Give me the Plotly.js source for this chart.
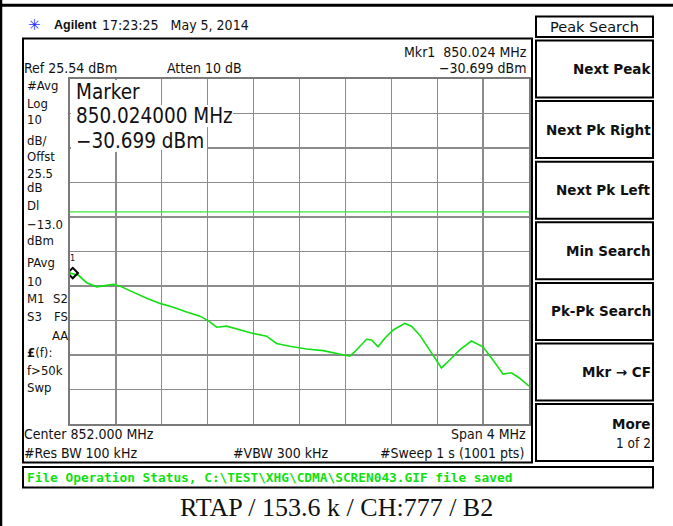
<!DOCTYPE html>
<html>
<head>
<meta charset="utf-8">
<script src="https://cdn.plot.ly/plotly-3.0.1.min.js"></script>
<style>
  html, body { margin: 0; padding: 0; background: #fff; }
  #plot { width: 673px; height: 526px; }
</style>
</head>
<body>
<div id="plot"></div>
<script>
// analyzer settings
const refLevel = 25.54;
const dbPerDiv = 10;
const centerMHz = 852.0;
const spanMHz = 4;
const displayLine = -13.0;
const markerFreq = [850.024];
const markerLevel = [-30.699];

// trace
const freqMHz = [
	850.000, 850.006, 850.072, 850.145, 850.233, 850.290, 850.377, 850.435,
	850.551, 850.668, 850.784, 850.900, 851.016, 851.132, 851.204, 851.278,
	851.365, 851.481, 851.596, 851.713, 851.800, 851.916, 852.061, 852.206,
	852.351, 852.439, 852.482, 852.584, 852.628, 852.685, 852.743, 852.816,
	852.918, 852.976, 853.048, 853.135, 853.237, 853.309, 853.396, 853.498,
	853.599, 853.686, 853.774, 853.847, 853.919, 854.000,
];
const levelDbm = [
	-30.6, -30.8, -31.3, -33.5, -34.7, -34.4, -34.0, -34.5,
	-36.3, -38.0, -39.5, -40.6, -42.0, -43.2, -44.5, -46.4,
	-46.1, -47.2, -48.2, -49.0, -51.1, -51.9, -52.7, -53.2,
	-54.3, -54.8, -53.5, -49.9, -50.1, -52.1, -49.6, -47.2,
	-45.3, -46.1, -48.7, -53.0, -58.2, -55.9, -53.0, -50.4,
	-52.1, -55.9, -60.0, -59.6, -61.2, -63.5,
];

const softkeys = ['Next Peak', 'Next Pk Right', 'Next Pk Left', 'Min Search', 'Pk-Pk Search', 'Mkr \u2192 CF'];
const sideLabels = ['#Avg', 'Log', '10', 'dB/', 'Offst', '25.5', 'dB', 'Dl', '\u221213.0', 'dBm', 'PAvg', '10'];

// plot area in pixels
const PL = 70, PT = 79, PW = 459, PH = 345;
const px = x => (x - PL) / PW;
const py = y => (PT + PH - y) / PH;

const scrFont = "'DejaVu Sans Condensed', 'DejaVu Sans', sans-serif";
const keyFont = "'DejaVu Sans', sans-serif";
const green = '#12e012';

function label(text, x, y, anchor = 'left', size = 13, color = '#111', family = scrFont) {
	return {
		text, xref: 'paper', yref: 'paper',
		x: px(x), y: py(y),
		xanchor: anchor, yanchor: 'middle',
		showarrow: false, borderpad: 0,
		font: {family, size, color},
	};
}

function box(x0, y0, x1, y1, color = '#000', width = 2, fill = 'rgba(0,0,0,0)') {
	return {
		type: 'rect', xref: 'paper', yref: 'paper', layer: 'above',
		x0: px(x0), x1: px(x1), y0: py(y0), y1: py(y1),
		line: {color, width}, fillcolor: fill,
	};
}

function line(x0, y0, x1, y1, color = '#000', width = 2) {
	return {
		type: 'line', xref: 'paper', yref: 'paper', layer: 'above',
		x0: px(x0), x1: px(x1), y0: py(y0), y1: py(y1),
		line: {color, width},
	};
}

function visualize() {
	const trace = {
		x: freqMHz, y: levelDbm,
		mode: 'lines', type: 'scatter',
		line: {color: green, width: 1.6},
		hoverinfo: 'none',
	};
	const marker = {
		x: markerFreq, y: markerLevel,
		mode: 'markers', type: 'scatter',
		marker: {symbol: 'diamond-open', size: 8, color: '#000', line: {width: 2, color: '#000'}},
		hoverinfo: 'none',
	};

	const shapes = [
		// outer frame
		line(0, 5.3, 673, 5.3, '#000', 3),
		line(1, 0, 1, 526, '#000', 2.5),
		// marker readout backgrounds
		box(71, 80, 146, 152, '#fff', 0, '#fff'),
		box(71, 105, 233, 127, '#fff', 0, '#fff'),
		box(71, 127, 207, 150, '#fff', 0, '#fff'),
		// display line
		{
			type: 'line', xref: 'paper', yref: 'y', layer: 'above',
			x0: 0, x1: 1, y0: displayLine, y1: displayLine,
			line: {color: '#3ce63c', width: 1.2},
		},
		// screen frame and status bar
		box(23, 38.5, 532, 462.5),
		box(23, 467, 653, 487.5),
		// softkey boxes
		box(536, 16.5, 653, 37),
	];
	const annotations = [
		label('\u2733', 34.5, 25, 'center', 15, '#2233ff', keyFont),
		label('<b>Agilent</b>', 53, 25, 'left', 12.5, '#111', 'Arial, Liberation Sans, sans-serif'),
		label('17:23:25   May 5, 2014', 101, 25, 'left', 14),
		label('Ref 25.54 dBm', 23, 68.5, 'left', 14),
		label('Atten 10 dB', 166, 68.5, 'left', 14),
		label('Mkr1  850.024 MHz', 528, 52, 'right', 14),
		label('\u221230.699 dBm', 528, 68.5, 'right', 14),
		label('Marker', 75, 92, 'left', 20.5),
		label('850.024000 MHz', 75, 116, 'left', 20.5),
		label('\u221230.699 dBm', 75, 140.5, 'left', 20.5),
		label('1', 72.5, 258, 'center', 9),
		label('M1', 26, 298.5), label('S2', 69, 298.5, 'right'),
		label('S3', 26, 316), label('FS', 69, 316, 'right'),
		label('AA', 69, 335, 'right'),
		label('<b>\u00a3</b>(f):', 26, 352),
		label('f>50k', 26, 370.5),
		label('Swp', 26, 387.5),
		label('Center 852.000 MHz', 23, 434, 'left', 14),
		label('Span 4 MHz', 527, 434, 'right', 14),
		label('#Res BW 100 kHz', 23, 453, 'left', 14),
		label('#VBW 300 kHz', 232, 453, 'left', 14),
		label('#Sweep 1 s (1001 pts)', 525, 453, 'right', 14),
		label('<b>File Operation Status, C:\\TEST\\XHG\\CDMA\\SCREN043.GIF file saved</b>',
			26, 477.5, 'left', 12.8, '#10e010', "'DejaVu Sans Mono', monospace"),
		label('RTAP / 153.6 k / CH:777 / B2', 336.5, 507, 'center', 26, '#111',
			"'Liberation Serif', 'Times New Roman', serif"),
		label('Peak Search', 594.5, 26.5, 'center', 14.5, '#111', keyFont),
		label('<b>More</b>', 652, 423.5, 'right', 13.5, '#111', keyFont),
		label('1 of 2', 652, 443.5, 'right', 13.5),
	];
	const sideY = [85, 103, 119.5, 140, 156, 173, 187, 205.5, 224, 240, 262.5, 281];
	sideLabels.forEach((t, i) => annotations.push(label(t, 26, sideY[i])));

	softkeys.forEach((t, i) => {
		const top = 40.5 + i * 60.6;
		shapes.push(box(536, top, 653, top + 57));
		annotations.push(label('<b>' + t + '</b>', 652, top + 28.5, 'right', 13.5, '#111', keyFont));
	});
	shapes.push(box(536, 404, 653, 461));

	const layout = {
		width: 673, height: 526,
		paper_bgcolor: '#fff',
		plot_bgcolor: '#fff',
		showlegend: false,
		hovermode: false,
		margin: {l: PL, r: 673 - PL - PW, t: PT, b: 526 - PT - PH, pad: 0},
		xaxis: {
			range: [centerMHz - spanMHz / 2, centerMHz + spanMHz / 2],
			tick0: centerMHz - spanMHz / 2, dtick: spanMHz / 10,
			showticklabels: false, ticks: '',
			showgrid: true, gridcolor: '#8c8c8c', gridwidth: 1.3,
			zeroline: false,
			showline: true, mirror: true, linecolor: '#7a7a7a', linewidth: 2,
		},
		yaxis: {
			range: [refLevel - 10 * dbPerDiv, refLevel],
			tick0: refLevel, dtick: dbPerDiv,
			showticklabels: false, ticks: '',
			showgrid: true, gridcolor: '#8c8c8c', gridwidth: 1.3,
			zeroline: false,
			showline: true, mirror: true, linecolor: '#7a7a7a', linewidth: 2,
		},
		shapes,
		annotations,
	};
	Plotly.newPlot('plot', [trace, marker], layout, {staticPlot: true});
}

window.onload = visualize;
</script>
</body>
</html>
